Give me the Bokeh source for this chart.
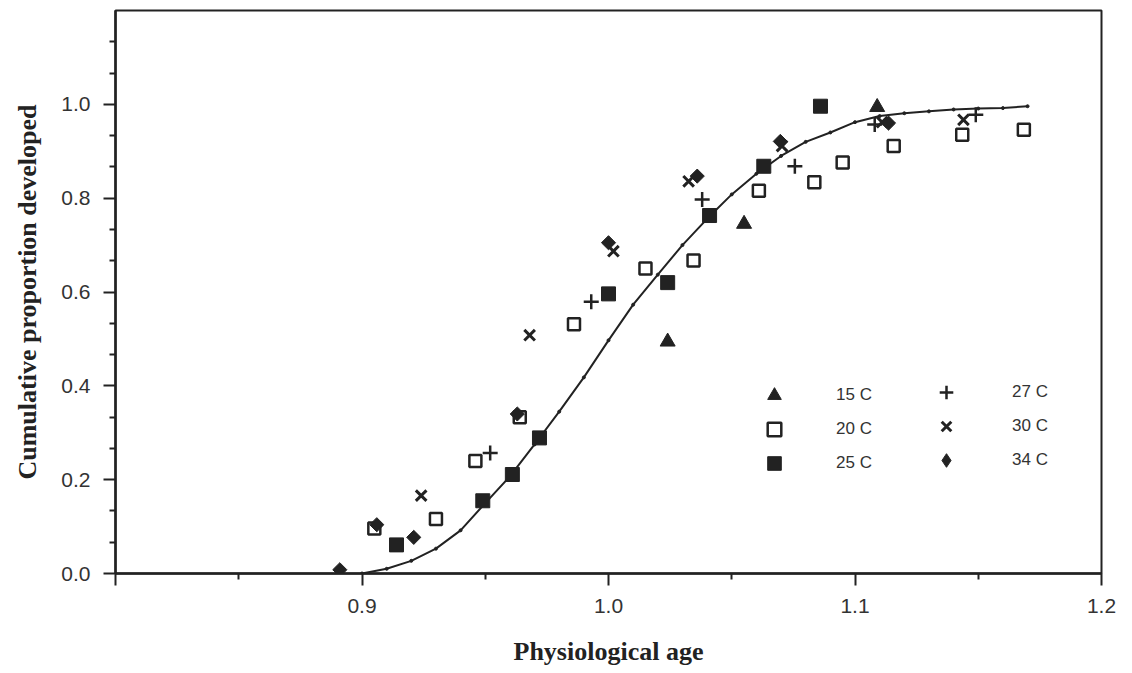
import math
from bokeh.plotting import figure
from bokeh.models import FixedTicker, Legend, LegendItem, Range1d, PrintfTickFormatter
from bokeh.embed import file_html
from bokeh.resources import INLINE

# fitted curve
curve_x = [0.90, 0.91, 0.92, 0.93, 0.94, 0.95, 0.96, 0.97, 0.98, 0.99, 1.00,
           1.01, 1.02, 1.03, 1.04, 1.05, 1.06, 1.07, 1.08, 1.09, 1.10, 1.11,
           1.12, 1.13, 1.14, 1.15, 1.16, 1.17]
curve_y = [0.000, 0.010, 0.027, 0.053, 0.092, 0.150, 0.207, 0.275, 0.345, 0.418, 0.497,
           0.573, 0.637, 0.700, 0.756, 0.808, 0.852, 0.890, 0.920, 0.940, 0.962, 0.975,
           0.981, 0.985, 0.989, 0.991, 0.992, 0.996]

# observations by temperature
c15_x = [1.024, 1.055, 1.109]
c15_y = [0.494, 0.745, 0.994]

c20_x = [0.905, 0.930, 0.946, 0.964, 0.986, 1.015, 1.0345, 1.061, 1.0835, 1.095, 1.1157, 1.1435, 1.1685]
c20_y = [0.096, 0.116, 0.240, 0.333, 0.531, 0.650, 0.667, 0.816, 0.834, 0.876, 0.911, 0.935, 0.946]

c25_x = [0.914, 0.949, 0.961, 0.972, 1.000, 1.024, 1.041, 1.063, 1.086]
c25_y = [0.061, 0.155, 0.211, 0.289, 0.596, 0.620, 0.763, 0.868, 0.996]

c27_x = [0.952, 0.993, 1.038, 1.0756, 1.108, 1.149]
c27_y = [0.257, 0.579, 0.797, 0.868, 0.957, 0.978]

c30_x = [0.924, 0.968, 1.002, 1.0325, 1.0704, 1.111, 1.144]
c30_y = [0.166, 0.508, 0.687, 0.836, 0.911, 0.962, 0.967]

c34_x = [0.891, 0.906, 0.921, 0.963, 1.000, 1.036, 1.0697, 1.1136]
c34_y = [0.008, 0.104, 0.077, 0.340, 0.705, 0.847, 0.921, 0.960]

labels = ["15 C", "20 C", "25 C", "27 C", "30 C", "34 C"]

x_major = [0.8, 0.9, 1.0, 1.1, 1.2]
x_minor = [0.85, 0.95, 1.05, 1.15]
y_major = [0.0, 0.2, 0.4, 0.6, 0.8, 1.0]
y_minor = [i / 15 for i in range(18) if i % 3 != 0]

INK = "#222222"

p = figure(width=1132, height=673, x_range=Range1d(0.8, 1.2), y_range=Range1d(0, 1.2),
           output_backend="svg", toolbar_location=None,
           min_border_left=115, min_border_right=31, min_border_top=10, min_border_bottom=100)
p.grid.visible = False
p.outline_line_color = INK
p.outline_line_width = 2
p.background_fill_color = "white"
p.border_fill_color = "white"

p.xaxis.ticker = FixedTicker(ticks=x_major, minor_ticks=x_minor)
p.xaxis.formatter = PrintfTickFormatter(format="%.1f")
p.xaxis.major_label_overrides = {0.8: ""}
p.yaxis.ticker = FixedTicker(ticks=y_major, minor_ticks=y_minor)
p.yaxis.formatter = PrintfTickFormatter(format="%.1f")
for ax in (p.xaxis[0], p.yaxis[0]):
    ax.axis_line_color = INK
    ax.axis_line_width = 2.5
    ax.major_tick_line_color = INK
    ax.minor_tick_line_color = INK
    ax.major_tick_line_width = 2
    ax.minor_tick_line_width = 2
    ax.major_tick_in = 0
    ax.major_tick_out = 12
    ax.minor_tick_in = 0
    ax.minor_tick_out = 6
    ax.major_label_text_font = "Liberation Sans"
    ax.major_label_text_font_size = "21px"
    ax.major_label_text_color = "#333333"
    ax.major_label_standoff = 13
    ax.axis_label_text_font = "Liberation Serif"
    ax.axis_label_text_font_style = "bold"
    ax.axis_label_text_font_size = "26px"
    ax.axis_label_text_color = INK

p.xaxis.axis_label = "Physiological age"
p.xaxis.axis_label_standoff = 21
p.yaxis.axis_label = "Cumulative proportion developed"
p.yaxis.axis_label_standoff = 16

# fitted curve
p.line(curve_x, curve_y, line_color=INK, line_width=2)
p.scatter(curve_x, curve_y, size=3, color=INK)

r15 = p.scatter(c15_x, c15_y, marker="triangle", size=15, color=INK)
r20 = p.scatter(c20_x, c20_y, marker="square", size=12, fill_color="white",
                line_color=INK, line_width=2.5)
r25 = p.scatter(c25_x, c25_y, marker="square", size=14, color=INK)
r27 = p.scatter(c27_x, c27_y, marker="cross", size=15, line_color=INK, line_width=2.5)
r30 = p.scatter(c30_x, c30_y, marker="x", size=15, line_color=INK, line_width=3)
r34 = p.scatter(c34_x, c34_y, marker="square", size=10, angle=math.pi / 4, color=INK)
# legend-only glyph for the diamond (legend ignores marker angle); NaN -> not drawn in plot
r34_key = p.scatter(x=[float("nan")], y=[float("nan")], marker="diamond", size=16, color=INK)


def make_legend(items, loc, standoff):
    lg = Legend(items=items, location=loc, orientation="vertical",
                border_line_color=None, background_fill_alpha=0,
                padding=0, margin=0, spacing=0, glyph_width=34, glyph_height=34,
                label_standoff=standoff, label_text_font="Liberation Sans",
                label_text_font_size="17px", label_text_color="#333333")
    return lg


leg1 = make_legend([LegendItem(label=labels[0], renderers=[r15]),
                    LegendItem(label=labels[1], renderers=[r20]),
                    LegendItem(label=labels[2], renderers=[r25])], (642, 93), 45)
leg2 = make_legend([LegendItem(label=labels[3], renderers=[r27]),
                    LegendItem(label=labels[4], renderers=[r30]),
                    LegendItem(label=labels[5], renderers=[r34_key])], (814, 96), 49)
p.add_layout(leg1, "center")
p.add_layout(leg2, "center")

open("out.html", "w").write(file_html(p, INLINE))
